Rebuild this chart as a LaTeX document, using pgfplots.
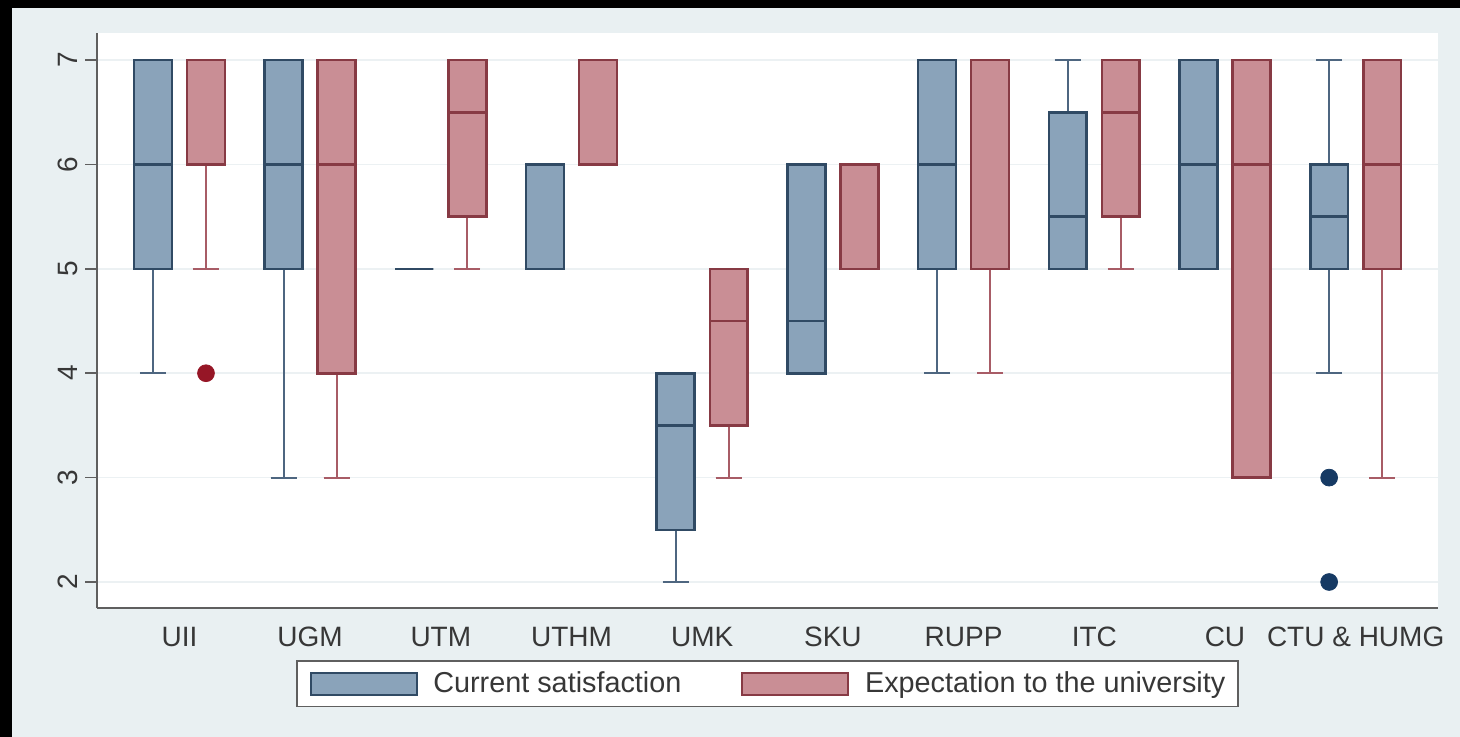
\documentclass[border=0pt]{standalone}
\usepackage{fontspec}
\setmainfont{Liberation Sans}
\usepackage{pgfplots}
\pgfplotsset{compat=1.18}
\usepgfplotslibrary{statistics}
\definecolor{bgc}{RGB}{233,240,242}
\definecolor{axc}{RGB}{95,95,95}
\definecolor{gridc}{RGB}{236,241,243}
\definecolor{txtc}{RGB}{55,55,55}
\definecolor{bfill}{RGB}{138,163,186}
\definecolor{bedge}{RGB}{48,74,100}
\definecolor{bwhisk}{RGB}{78,102,128}
\definecolor{rfill}{RGB}{201,142,149}
\definecolor{redge}{RGB}{135,58,68}
\definecolor{rwhisk}{RGB}{168,92,102}
\definecolor{rout}{RGB}{150,22,38}
\definecolor{bout}{RGB}{22,58,100}
\pgfplotsset{
  bbox/.style={forget plot, boxplot/draw direction=y, fill=bfill, draw=bedge, line width=1.3pt,
    boxplot/box extend=0.29, boxplot/whisker extend=0.2,
    boxplot/every whisker/.style={draw=bwhisk, line width=1pt},
    boxplot/every median/.style={draw=bedge, line width=1.3pt}},
  rbox/.style={forget plot, boxplot/draw direction=y, fill=rfill, draw=redge, line width=1.3pt,
    boxplot/box extend=0.29, boxplot/whisker extend=0.2,
    boxplot/every whisker/.style={draw=rwhisk, line width=1pt},
    boxplot/every median/.style={draw=redge, line width=1.3pt}},
}
\newcommand{\bx}[7]{\addplot[#1, boxplot prepared={draw position=#2, lower whisker=#3, lower quartile=#4, median=#5, upper quartile=#6, upper whisker=#7}] coordinates {};}
\begin{document}
\begin{tikzpicture}[x=1pt,y=1pt]
\fill[black] (0,0) rectangle (730,368.5);
\fill[bgc] (6,0) rectangle (730,364.5);
\useasboundingbox (0,0) rectangle (730,368.5);
\begin{axis}[
  at={(48.5pt,64.5pt)}, anchor=south west,
  scale only axis, width=670.5pt, height=287.5pt,
  xmin=0.369, xmax=10.63, ymin=1.751, ymax=7.259,
  axis x line*=bottom, axis y line*=left,
  axis line style={draw=axc, line width=0.9pt},
  axis background/.style={fill=white},
  ytick={2,3,4,5,6,7}, xtick={1,...,10},
  xticklabels={UII,UGM,UTM,UTHM,UMK,SKU,RUPP,ITC,CU,CTU \& HUMG},
  tick align=outside, major tick length=6pt,
  x tick style={draw=none}, y tick style={draw=axc, line width=0.8pt},
  ymajorgrids, grid style={draw=gridc, line width=0.8pt},
  yticklabel style={rotate=90, anchor=south},
  tick label style={font=\fontsize{14}{16}\selectfont, text=txtc},
  /pgf/number format/assume math mode=true,
  legend columns=2,
  legend style={at={(0.5,0)}, anchor=north, yshift=-26pt, draw=axc, line width=0.8pt, fill=white,
    font=\fontsize{14.4}{16}\selectfont, text=txtc, inner xsep=2.5pt, inner ysep=3.5pt,
    /tikz/every even column/.append style={column sep=22pt},
    nodes={inner xsep=4pt, inner ysep=2pt}},
]
% UII
\bx{bbox}{0.797}{4}{5}{6}{7}{7}
\bx{rbox}{1.203}{5}{6}{6}{7}{7}
% UGM
\bx{bbox}{1.797}{3}{5}{6}{7}{7}
\bx{rbox}{2.203}{3}{4}{6}{7}{7}
% UTM
\bx{bbox}{2.797}{5}{5}{5}{5}{5}
\bx{rbox}{3.203}{5}{5.5}{6.5}{7}{7}
% UTHM
\bx{bbox}{3.797}{5}{5}{6}{6}{6}
\bx{rbox}{4.203}{6}{6}{7}{7}{7}
% UMK
\bx{bbox}{4.797}{2}{2.5}{3.5}{4}{4}
\bx{rbox}{5.203}{3}{3.5}{4.5}{5}{5}
% SKU
\bx{bbox}{5.797}{4}{4}{4.5}{6}{6}
\bx{rbox}{6.203}{5}{5}{5}{6}{6}
% RUPP
\bx{bbox}{6.797}{4}{5}{6}{7}{7}
\bx{rbox}{7.203}{4}{5}{7}{7}{7}
% ITC
\bx{bbox}{7.797}{5}{5}{5.5}{6.5}{7}
\bx{rbox}{8.203}{5}{5.5}{6.5}{7}{7}
% CU
\bx{bbox}{8.797}{5}{5}{6}{7}{7}
\bx{rbox}{9.203}{3}{3}{6}{7}{7}
% CTU & HUMG
\bx{bbox}{9.797}{4}{5}{5.5}{6}{7}
\bx{rbox}{10.203}{3}{5}{6}{7}{7}
% outliers
\addplot[forget plot, only marks, mark=*, mark size=4.2pt, color=rout] coordinates {(1.203,4)};
\addplot[forget plot, only marks, mark=*, mark size=4.2pt, color=bout] coordinates {(9.797,3) (9.797,2)};
\addlegendimage{legend image code/.code={\path (-4pt,0) (57pt,0); \draw[fill=bfill, draw=bedge, line width=1pt] (0pt,-5.5pt) rectangle (53pt,5.5pt);}}
\addlegendentry{Current satisfaction}
\addlegendimage{legend image code/.code={\path (-4pt,0) (57pt,0); \draw[fill=rfill, draw=redge, line width=1pt] (0pt,-5.5pt) rectangle (53pt,5.5pt);}}
\addlegendentry{Expectation to the university\hspace{5.5pt}}
\end{axis}
\end{tikzpicture}
\end{document}
